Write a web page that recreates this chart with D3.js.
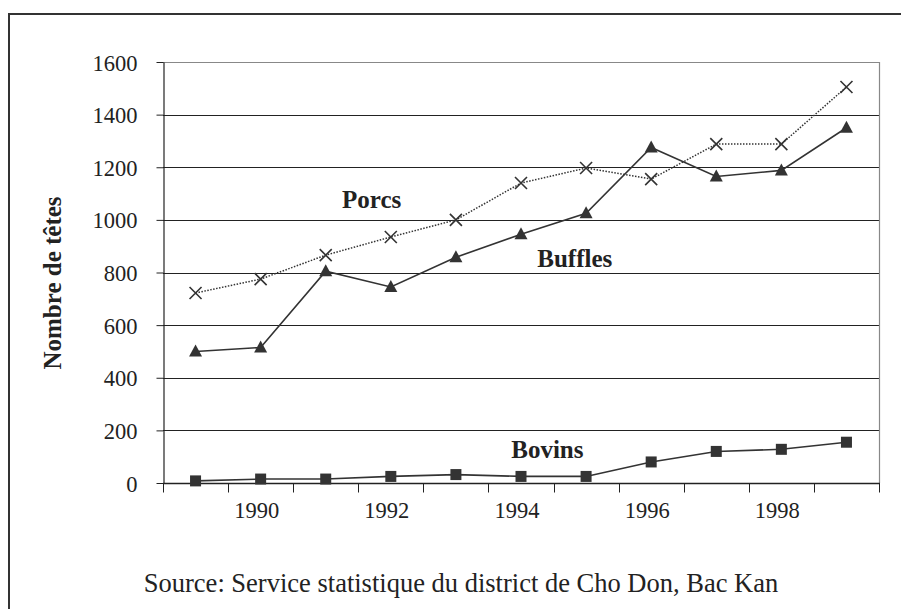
<!DOCTYPE html>
<html>
<head>
<meta charset="utf-8">
<script src="https://cdn.jsdelivr.net/npm/d3@7"></script>
<style>
  html, body { margin: 0; padding: 0; background: #fff; }
  svg { display: block; }
  text { font-family: "Liberation Serif", "Times New Roman", serif; fill: #222; }
</style>
</head>
<body>
<svg id="chart" width="901" height="609"></svg>
<script>
// Livestock counts (heads) by year
const years = [1989, 1990, 1991, 1992, 1993, 1994, 1995, 1996, 1997, 1998, 1999];
const porcs   = [722, 775, 866, 935, 1000, 1140, 1197, 1155, 1288, 1288, 1505];
const buffles = [500, 515, 805, 745, 858, 945, 1025, 1275, 1165, 1188, 1350];
const bovins  = [8, 15, 15, 25, 32, 25, 25, 80, 120, 128, 155];

const yTicks = [0, 200, 400, 600, 800, 1000, 1200, 1400, 1600];
const xTickLabels = [1990, 1992, 1994, 1996, 1998];

// Series name labels, placed in data space (band index, value)
const seriesLabels = [
  { text: "Porcs",   band: 2.75, value: 1045 },
  { text: "Buffles", band: 5.75, value: 821 },
  { text: "Bovins",  band: 5.35, value: 95 }
];

(function () {
const FONT = "'Liberation Serif', 'Times New Roman', serif";
const svg = d3.select("#chart");
const plotLeft = 163, plotRight = 879, plotTop = 62, plotBottom = 483;

const x = d3.scaleBand().domain(years).range([plotLeft, plotRight]).padding(0);
const y = d3.scaleLinear().domain([0, 1600]).range([plotBottom, plotTop]);
const cx = d => x(d) + x.bandwidth() / 2;
const bandX = u => plotLeft + u * x.bandwidth();

// Outer frame (top and left edges visible)
svg.append("path")
  .attr("d", `M9,609 L9,14 L901,14`)
  .attr("fill", "none").attr("stroke", "#333").attr("stroke-width", 2);

// Horizontal gridlines
svg.append("g").selectAll("line")
  .data(yTicks.filter(t => t > 0))
  .join("line")
  .attr("x1", plotLeft).attr("x2", plotRight)
  .attr("y1", d => Math.round(y(d)) + 0.5).attr("y2", d => Math.round(y(d)) + 0.5)
  .attr("stroke", d => d === 1600 ? "#888" : "#222")
  .attr("stroke-width", 1);

// Plot area right edge
svg.append("line")
  .attr("x1", plotRight + 0.5).attr("x2", plotRight + 0.5)
  .attr("y1", plotTop).attr("y2", plotBottom)
  .attr("stroke", "#888").attr("stroke-width", 1.2);

// Y axis
const yAxis = d3.axisLeft(y).tickValues(yTicks).tickFormat(d3.format("d"))
  .tickSize(7).tickPadding(19).tickSizeOuter(0);
const gy = svg.append("g").attr("transform", `translate(${plotLeft + 0.5},0)`).call(yAxis)
  .attr("font-family", FONT).attr("font-size", 22);
gy.select(".domain").attr("stroke", "#222").attr("stroke-width", 1.2);
gy.selectAll(".tick line").attr("stroke", "#222");
gy.selectAll(".tick text")
  .style("font-size", "22.5px").style("font-family", FONT)
  .attr("fill", "#222").attr("dy", "0.36em");

// X axis: tick marks at band boundaries, labels every other year
const gx = svg.append("g").attr("transform", `translate(0,${plotBottom + 0.5})`);
gx.append("line")
  .attr("x1", plotLeft).attr("x2", plotRight + 1)
  .attr("stroke", "#222").attr("stroke-width", 1.5);
const bounds = years.map(d => x(d)).concat([x(years[years.length - 1]) + x.bandwidth()]);
gx.selectAll(".xt").data(bounds).join("line")
  .attr("class", "xt")
  .attr("x1", d => Math.round(d) + 0.5).attr("x2", d => Math.round(d) + 0.5)
  .attr("y1", 0).attr("y2", 9)
  .attr("stroke", "#222").attr("stroke-width", 1);
gx.selectAll(".xl").data(xTickLabels).join("text")
  .attr("class", "xl")
  .attr("x", d => cx(d) - 4).attr("y", 34)
  .attr("text-anchor", "middle")
  .style("font-size", "22.5px").style("font-family", FONT)
  .text(d => d);

// Lines
const line = d3.line().x((d, i) => cx(years[i])).y(d => y(d));

svg.append("path").datum(porcs)
  .attr("d", line).attr("fill", "none")
  .attr("stroke", "#333").attr("stroke-width", 1.5)
  .attr("stroke-dasharray", "1.5,1.5");

svg.append("path").datum(buffles)
  .attr("d", line).attr("fill", "none")
  .attr("stroke", "#333").attr("stroke-width", 1.6);

svg.append("path").datum(bovins)
  .attr("d", line).attr("fill", "none")
  .attr("stroke", "#333").attr("stroke-width", 1.6);

// Markers
const s = 6;
svg.append("g").selectAll("path")
  .data(porcs).join("path")
  .attr("d", (d, i) => {
    const px = cx(years[i]), py = y(d);
    return `M${px - s},${py - s}L${px + s},${py + s}M${px - s},${py + s}L${px + s},${py - s}`;
  })
  .attr("stroke", "#333").attr("stroke-width", 1.6).attr("fill", "none");

svg.append("g").selectAll("path")
  .data(buffles).join("path")
  .attr("d", (d, i) => {
    const px = cx(years[i]), py = y(d);
    return `M${px},${py - 7}L${px + 6.5},${py + 5}L${px - 6.5},${py + 5}Z`;
  })
  .attr("fill", "#333");

svg.append("g").selectAll("rect")
  .data(bovins).join("rect")
  .attr("x", (d, i) => cx(years[i]) - 5.5)
  .attr("y", d => y(d) - 5.5)
  .attr("width", 11).attr("height", 11)
  .attr("fill", "#333");

// Series names
svg.append("g").selectAll("text")
  .data(seriesLabels).join("text")
  .attr("x", d => bandX(d.band))
  .attr("y", d => y(d.value))
  .style("font-size", "25px").style("font-weight", "bold").style("font-family", FONT)
  .attr("fill", "#333")
  .text(d => d.text);

// Y axis title
svg.append("text")
  .attr("transform", "translate(61,283) rotate(-90)")
  .attr("text-anchor", "middle")
  .style("font-size", "25px").style("font-weight", "bold").style("font-family", FONT)
  .text("Nombre de têtes");

// Source note
svg.append("text")
  .attr("x", 461).attr("y", 592)
  .attr("text-anchor", "middle")
  .style("font-size", "26.5px").style("font-family", FONT)
  .text("Source: Service statistique du district de Cho Don, Bac Kan");
})();
</script>
</body>
</html>
